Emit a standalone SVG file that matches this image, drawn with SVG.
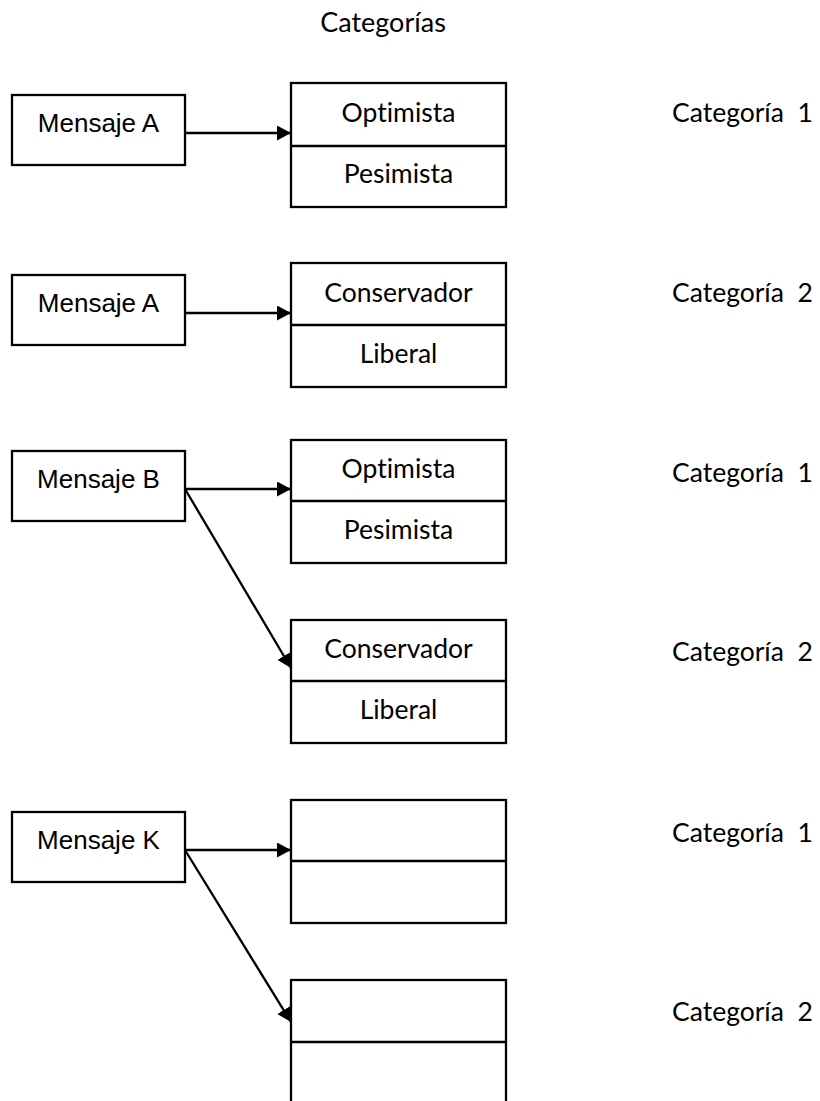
<svg xmlns="http://www.w3.org/2000/svg" width="820" height="1101" viewBox="0 0 820 1101">
  <defs>
    <marker id="arrow" viewBox="0 0 14 15" refX="14" refY="7.5" markerWidth="14" markerHeight="15" markerUnits="userSpaceOnUse" orient="auto">
      <path d="M0,0 L14,7.5 L0,15 Z" fill="#000"/>
    </marker>
    <style>
      .box { fill: #fff; stroke: #000; stroke-width: 2.3; }
      .div { stroke: #000; stroke-width: 2.3; }
      .msg { font-family: "Liberation Sans", Arial, sans-serif; font-size: 26px; fill: #000; text-anchor: middle; }
      .cell { font-family: Lato, "Open Sans", sans-serif; font-size: 26.5px; fill: #000; text-anchor: middle; font-variant-ligatures: none; }
      .cat { font-family: Lato, "Open Sans", sans-serif; font-size: 26.5px; fill: #000; white-space: pre; font-variant-ligatures: none; }
      .link { stroke: #000; stroke-width: 2.3; fill: none; marker-end: url(#arrow); }
    </style>
  </defs>
  <rect width="820" height="1101" fill="#fff"/>

  <text class="cell" x="383" y="32" style="font-size:27px">Categorías</text>

  <!-- message boxes -->
  <g id="msg-a1"><rect class="box" x="12" y="95" width="173" height="70"/><text class="msg" x="98.5" y="132">Mensaje A</text></g>
  <g id="msg-a2"><rect class="box" x="12" y="275" width="173" height="70"/><text class="msg" x="98.5" y="312">Mensaje A</text></g>
  <g id="msg-b"><rect class="box" x="12" y="451" width="173" height="70"/><text class="msg" x="98.5" y="488">Mensaje B</text></g>
  <g id="msg-k"><rect class="box" x="12" y="812" width="173" height="70"/><text class="msg" x="98.5" y="849">Mensaje K</text></g>

  <!-- category boxes -->
  <g id="cat1-a">
    <rect class="box" x="291" y="83" width="215" height="124"/><line class="div" x1="291" y1="146" x2="506" y2="146"/>
    <text class="cell" x="398.5" y="122">Optimista</text><text class="cell" x="398.5" y="183">Pesimista</text>
  </g>
  <g id="cat2-a">
    <rect class="box" x="291" y="263" width="215" height="124"/><line class="div" x1="291" y1="325" x2="506" y2="325"/>
    <text class="cell" x="398.5" y="302">Conservador</text><text class="cell" x="398.5" y="363">Liberal</text>
  </g>
  <g id="cat1-b">
    <rect class="box" x="291" y="440" width="215" height="123"/><line class="div" x1="291" y1="501" x2="506" y2="501"/>
    <text class="cell" x="398.5" y="478">Optimista</text><text class="cell" x="398.5" y="539">Pesimista</text>
  </g>
  <g id="cat2-b">
    <rect class="box" x="291" y="620" width="215" height="123"/><line class="div" x1="291" y1="681" x2="506" y2="681"/>
    <text class="cell" x="398.5" y="658">Conservador</text><text class="cell" x="398.5" y="719">Liberal</text>
  </g>
  <g id="cat1-k">
    <rect class="box" x="291" y="800" width="215" height="123"/><line class="div" x1="291" y1="861" x2="506" y2="861"/>
  </g>
  <g id="cat2-k">
    <rect class="box" x="291" y="980" width="215" height="126"/><line class="div" x1="291" y1="1042" x2="506" y2="1042"/>
  </g>

  <!-- category labels -->
  <g id="labels">
    <text class="cat" x="672" y="122">Categoría  1</text>
    <text class="cat" x="672" y="302">Categoría  2</text>
    <text class="cat" x="672" y="482">Categoría  1</text>
    <text class="cat" x="672" y="661">Categoría  2</text>
    <text class="cat" x="672" y="842">Categoría  1</text>
    <text class="cat" x="672" y="1021">Categoría  2</text>
  </g>

  <!-- connectors -->
  <g id="connectors">
    <line class="link" x1="185" y1="133" x2="291" y2="133"/>
    <line class="link" x1="185" y1="313" x2="291" y2="313"/>
    <line class="link" x1="185" y1="489" x2="291" y2="489"/>
    <line class="link" x1="185" y1="489" x2="291" y2="668"/>
    <line class="link" x1="185" y1="850" x2="291" y2="850"/>
    <line class="link" x1="185" y1="850" x2="291" y2="1022"/>
  </g>
</svg>
